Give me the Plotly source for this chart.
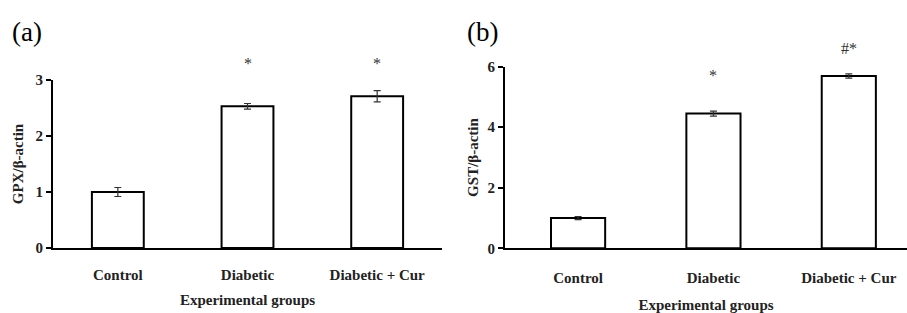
import plotly.graph_objects as go

categories = ["Control", "Diabetic", "Diabetic + Cur"]
gpx_values = [1.0, 2.53, 2.71]
gpx_errors = [0.08, 0.05, 0.10]
gpx_marks = ["", "*", "*"]
gpx_mark_y = [None, 3.3, 3.3]
gst_values = [1.0, 4.45, 5.69]
gst_errors = [0.05, 0.08, 0.07]
gst_marks = ["", "*", "#*"]
gst_mark_y = [None, 5.72, 6.6]
gpx_ticks = [0, 1, 2, 3]
gst_ticks = [0, 2, 4, 6]

FONT = "Liberation Serif"
W, H = 907, 313
GPX_MAX, GST_MAX = 3, 6

fig = go.Figure()

def bar(x, y, err, xa, ya):
    return go.Bar(
        x=x, y=y, xaxis=xa, yaxis=ya, width=0.4,
        marker=dict(color="white", line=dict(color="black", width=2)),
        error_y=dict(type="data", array=err, visible=True, color="#333333",
                     thickness=1.2, width=3.5),
        showlegend=False, hoverinfo="skip",
    )

fig.add_trace(bar(categories, gpx_values, gpx_errors, "x", "y"))
fig.add_trace(bar(categories, gst_values, gst_errors, "x2", "y2"))

for c, m, v in zip(categories, gpx_marks, gpx_mark_y):
    if m:
        fig.add_annotation(x=c, y=v / GPX_MAX, xref="x", yref="y domain", text=m,
                           xanchor="center", yanchor="middle",
                           showarrow=False, font=dict(family=FONT, size=16, color="#333"))
for c, m, v in zip(categories, gst_marks, gst_mark_y):
    if m:
        fig.add_annotation(x=c, y=v / GST_MAX, xref="x2", yref="y2 domain", text=m,
                           xanchor="center", yanchor="middle",
                           showarrow=False, font=dict(family=FONT, size=16, color="#333"))

fig.add_annotation(x=27 / W, y=1 - 32 / H, xref="paper", yref="paper", text="(a)",
                   xanchor="center", yanchor="middle",
                   showarrow=False, font=dict(family=FONT, size=27, color="black"))
fig.add_annotation(x=483 / W, y=1 - 32 / H, xref="paper", yref="paper", text="(b)",
                   xanchor="center", yanchor="middle",
                   showarrow=False, font=dict(family=FONT, size=27, color="black"))

xcommon = dict(
    showline=True, linecolor="black", linewidth=2, ticks="outside",
    tickcolor="rgba(0,0,0,0)", showgrid=False, zeroline=False,
    tickfont=dict(family=FONT, size=15, color="#222"), automargin=False,
)
ycommon = dict(
    showline=True, linecolor="black", linewidth=2, ticks="outside",
    tickcolor="black", ticklen=5, tickwidth=2, showgrid=False, zeroline=False,
    tickfont=dict(family=FONT, size=15, color="#222"), automargin=False,
)

fig.update_layout(
    width=W, height=H,
    margin=dict(l=0, r=0, t=0, b=0),
    paper_bgcolor="white", plot_bgcolor="white",
    font=dict(family=FONT, color="black"),
    xaxis=dict(xcommon, domain=[53 / W, 442 / W], range=[-0.5, 2.5], anchor="y", ticklen=12,
               title=dict(text="<b>Experimental groups</b>", standoff=12,
                          font=dict(family=FONT, size=15, color="#222"))),
    yaxis=dict(ycommon, domain=[1 - 248 / H, 1 - 80 / H], range=[0, GPX_MAX],
               tickvals=gpx_ticks, ticktext=[f"<b>{t}</b>" for t in gpx_ticks], anchor="x",
               title=dict(text="<b>GPX/β-actin</b>", standoff=8,
                          font=dict(family=FONT, size=15, color="#222"))),
    xaxis2=dict(xcommon, domain=[505 / W, 1.0], range=[-0.54, 2.43], anchor="y2", ticklen=15,
                title=dict(text="<b>Experimental groups</b>", standoff=14,
                           font=dict(family=FONT, size=15, color="#222"))),
    yaxis2=dict(ycommon, domain=[1 - 248.3 / H, 1 - 66.7 / H], range=[0, GST_MAX],
                tickvals=gst_ticks, ticktext=[f"<b>{t}</b>" for t in gst_ticks], anchor="x2",
                title=dict(text="<b>GST/β-actin</b>", standoff=5,
                           font=dict(family=FONT, size=15, color="#222"))),
)
fig.update_xaxes(tickvals=categories, ticktext=[f"<b>{c}</b>" for c in categories])

fig.write_html("out.html", config={"displayModeBar": False},
               post_script="document.body.style.margin='0';")
